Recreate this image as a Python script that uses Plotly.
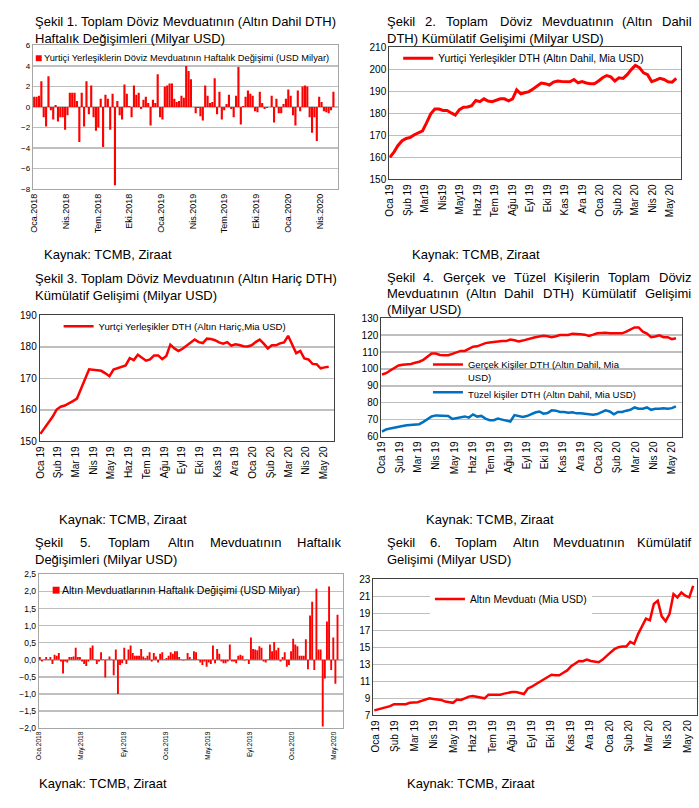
import plotly.graph_objects as go

W, H = 699, 808
RED = "#FF0000"
BLUE = "#0070C0"
FONT = "Liberation Sans, Arial, sans-serif"

# ---------------- data ----------------
p1_tick_labels = ["Oca.2018", "Nis.2018", "Tem.2018", "Eki.2018", "Oca.2019",
                  "Nis.2019", "Tem.2019", "Eki.2019", "Oca.2020", "Nis.2020"]
p1_weekly_change = [
    1.0, 1.0, 1.1, 2.5, -1.0, -1.9, 3.0, -0.3, -1.2, 0.2,
    -1.4, -1.0, -1.0, -2.2, -0.8, 1.4, 1.4, 1.4, 0.6, -3.4,
    1.4, -1.9, 2.5, -0.7, 2.1, -1.0, -2.3, -2.0, 0.8, -3.9,
    1.2, 0.8, -2.2, 1.3, -7.6, 0.6, -0.8, -1.2, 2.2, 1.3,
    0.1, -1.0, 2.1, 1.2, 1.4, -0.2, 0.7, 1.0, 0.4, -1.8,
    0.7, 0.4, 3.2, -1.0, -1.2, 2.0, 2.1, 2.3, 2.3, 0.8,
    0.5, 0.6, 1.1, 0.9, 4.0, 3.5, 2.7, 0.0, -0.6, -0.1,
    -0.9, -1.3, 2.1, 1.1, 0.4, 0.5, 2.8, -0.7, 1.5, -1.2,
    -0.3, 0.3, 1.2, -0.2, -1.0, 1.1, 3.9, -1.7, 0.1, 1.0,
    1.6, 1.3, 1.1, -0.4, -0.5, 1.5, 0.4, -0.2, -0.1, 0.0,
    1.1, -1.5, 0.8, -0.6, -0.6, 0.3, 0.8, 1.7, 1.1, -0.8,
    -1.8, 1.6, -0.4, 2.0, 2.1, 2.0, -1.0, -2.5, -1.0, -3.3,
    1.0, 0.5, -0.4, -0.5, -0.6, -0.3, 1.5]

p2_tick_labels = ["Oca 19", "Şub 19", "Mar19", "Nis19", "May19", "Haz 19", "Tem 19",
                  "Ağu 19", "Eyl 19", "Eki 19", "Kas 19", "Ara 19", "Oca 20", "Şub 20",
                  "Mar 20", "Nis 20", "May 20"]
p2_total_dth = [
    160.0, 162.4, 165.4, 167.6, 168.6, 169.1, 170.3, 171.3, 172.1, 175.8,
    179.8, 182.0, 182.0, 181.3, 181.3, 180.2, 179.2, 181.7, 182.8, 182.9,
    183.5, 185.9, 185.3, 186.6, 185.6, 185.3, 185.9, 186.6, 186.6, 185.7,
    186.6, 190.7, 188.9, 189.3, 189.9, 191.1, 192.4, 193.8, 193.5, 192.9,
    194.2, 194.7, 194.5, 194.4, 194.4, 195.4, 193.9, 194.5, 193.8, 193.5,
    193.5, 194.7, 196.2, 197.2, 196.6, 194.7, 196.2, 195.9, 197.6, 199.9,
    201.8, 200.8, 198.4, 197.6, 194.4, 195.1, 195.9, 195.4, 194.4, 194.2,
    195.9]

month_labels = ["Oca 19", "Şub 19", "Mar 19", "Nis 19", "May 19", "Haz 19", "Tem 19",
                "Ağu 19", "Eyl 19", "Eki 19", "Kas 19", "Ara 19", "Oca 20", "Şub 20",
                "Mar 20", "Nis 20", "May 20"]
p3_dth_ex_gold = [
    152.4, 154.2, 156.0, 157.8, 160.1, 161.0, 161.4, 162.0, 162.8, 163.6,
    167.0, 169.8, 172.9, 172.8, 172.7, 172.4, 171.6, 170.7, 172.8, 173.3,
    173.7, 174.1, 176.4, 175.8, 177.5, 176.4, 175.6, 176.0, 177.3, 177.3,
    176.1, 177.1, 180.7, 179.5, 178.7, 179.4, 180.3, 181.3, 182.3, 181.5,
    181.2, 182.6, 182.5, 182.1, 181.4, 181.0, 181.5, 180.4, 180.8, 180.6,
    180.2, 180.1, 180.5, 181.5, 182.3, 181.0, 179.5, 180.5, 180.5, 181.1,
    181.4, 183.5, 180.8, 178.0, 178.7, 176.3, 176.0, 174.6, 174.5, 173.2,
    173.5, 173.7]

p4_individuals = [
    96.7, 97.5, 99.1, 100.6, 102.1, 102.5, 102.5, 102.9, 103.7, 104.3,
    105.4, 107.2, 109.1, 109.1, 108.3, 108.1, 108.1, 108.9, 109.7, 110.7,
    110.7, 112.0, 113.2, 113.4, 114.5, 115.3, 115.7, 116.1, 116.1, 116.5,
    116.5, 117.4, 117.0, 116.3, 116.8, 117.6, 118.4, 118.8, 119.2, 119.6,
    119.4, 118.8, 119.4, 120.1, 120.1, 120.1, 120.9, 120.5, 120.5, 120.3,
    119.6, 120.3, 121.1, 121.3, 121.5, 121.1, 121.1, 121.5, 121.1, 122.1,
    123.4, 124.6, 124.6, 122.1, 120.9, 118.8, 119.2, 119.9, 118.8, 118.8,
    117.6, 118.2]
p4_corporates = [
    62.9, 64.2, 64.8, 65.4, 66.0, 66.2, 66.6, 66.8, 66.9, 67.3,
    68.7, 70.4, 71.9, 72.5, 72.5, 72.5, 72.2, 70.4, 71.0, 71.6,
    71.9, 71.2, 73.1, 71.8, 72.2, 70.6, 69.7, 69.7, 70.6, 70.0,
    69.3, 68.9, 72.7, 72.1, 71.6, 72.1, 73.3, 74.2, 74.8, 73.5,
    73.9, 75.5, 75.3, 74.5, 74.5, 74.1, 74.3, 73.7, 73.7, 73.5,
    73.5, 72.9, 73.3, 74.6, 75.5, 74.8, 73.1, 74.5, 74.5, 75.3,
    75.8, 77.2, 76.4, 76.4, 77.2, 75.8, 76.4, 76.4, 76.8, 76.4,
    76.8, 77.8]

p5_tick_labels = ["Oca.2018", "May.2018", "Eyl.2018", "Oca.2019", "May.2019",
                  "Eyl.2019", "Oca.2020", "May.2020"]
p5_gold_weekly = [
    0.08, -0.05, 0.02, 0.08, 0.02, 0.08, -0.12, 0.15, 0.12, 0.2,
    -0.05, -0.4, -0.05, -0.08, 0.08, 0.08, 0.1, 0.35, 0.08, 0.08,
    -0.05, -0.12, -0.18, -0.05, 0.35, 0.42, 0.02, -0.12, -0.05, 0.22,
    0.02, -0.52, 0.02, 0.1, 0.02, -0.45, 0.3, -1.0, -0.15, -0.1,
    0.35, -0.12, 0.3, 0.42, 0.2, 0.12, 0.12, 0.12, 0.32, 0.1,
    0.05, 0.12, 0.22, -0.05, 0.2, 0.1, -0.08, 0.18, 0.22, 0.02,
    0.05, 0.12, 0.22, 0.18, 0.25, 0.25, 0.08, 0.02, -0.02, 0.02,
    0.2, 0.08, 0.02, 0.25, 0.22, 0.02, -0.08, -0.15, -0.05, -0.2,
    -0.08, -0.12, 0.42, -0.1, 0.32, 0.18, -0.05, -0.1, -0.1, -0.05,
    0.45, -0.05, -0.05, -0.1, 0.12, 0.15, 0.12, -0.02, 0.02, -0.12,
    0.65, 0.32, 0.3, 0.28, 0.4, 0.35, -0.05, -0.08, 0.02, 0.45,
    0.25, 0.52, 0.28, 0.35, -0.05, 0.08, 0.22, -0.2, -0.15, 0.25,
    0.62, 0.45, 0.4, 0.12, 0.12, 0.12, 0.6, -0.28, 1.3, 1.7,
    -0.3, 2.08, 0.3, 0.3, -1.95, -0.55, 1.12, 2.15, -0.3, 0.65,
    -0.7, 1.32]

p6_gold_total = [
    7.58, 7.70, 7.85, 8.0, 8.08, 8.31, 8.31, 8.31, 8.31, 8.47,
    8.54, 8.54, 8.70, 8.85, 9.0, 8.93, 8.85, 8.81, 8.62, 8.58,
    8.47, 8.85, 8.81, 9.0, 9.2, 9.28, 9.16, 9.08, 9.0, 9.43,
    9.43, 9.35, 9.43, 9.55, 9.66, 9.74, 9.74, 9.58, 9.51, 10.16,
    10.36, 10.66, 10.93, 11.17, 11.43, 11.78, 11.71, 11.71, 12.01, 12.28,
    12.78, 13.05, 13.40, 13.36, 13.56, 13.40, 13.28, 13.25, 13.56, 14.02,
    14.40, 14.79, 15.02, 15.10, 15.10, 15.64, 15.41, 16.56, 17.41, 18.37,
    18.18, 20.11, 20.49, 18.64, 18.07, 18.95, 21.27, 20.88, 21.46, 21.07,
    20.88, 22.23]

P1_NAME = "Yurtiçi Yerleşiklerin Döviz Mevduatının Haftalık Değişimi (USD Milyar)"
P5_NAME = "Altın Mevduatlarının Haftalık Değişimi (USD Milyar)"

# ---------------- helpers ----------------
def fx(px):
    return px / W


def fy(py):
    return 1 - py / H


def idx(values):
    return list(range(len(values)))


def xaxis(left, right, rng, tickvals, ticktext, size, linecolor, anchor):
    return dict(domain=[fx(left), fx(right)], range=rng, tickmode="array",
                tickvals=tickvals, ticktext=ticktext, tickangle=-90,
                tickfont=dict(size=size, color="black", family=FONT),
                showgrid=False, zeroline=False, showline=True, mirror=True,
                linecolor=linecolor, linewidth=1, ticks="", anchor=anchor,
                fixedrange=True)


def yaxis(top, bottom, rng, dtick, size, linecolor, anchor, fmt=None):
    d = dict(domain=[fy(bottom), fy(top)], range=rng, dtick=dtick, tick0=rng[0],
             tickmode="linear",
             tickfont=dict(size=size, color="black", family=FONT),
             showgrid=True, gridcolor="#BFBFBF", gridwidth=1.5, zeroline=False,
             showline=True, mirror=True, linecolor=linecolor, linewidth=1,
             ticks="", anchor=anchor, fixedrange=True)
    if fmt:
        d["tickformat"] = fmt
    return d


def legend(x_px, y_px, size, bg="rgba(0,0,0,0)", valign="middle"):
    return dict(x=fx(x_px), y=fy(y_px), xanchor="left", yanchor="middle",
                font=dict(size=size, color="black", family=FONT), bgcolor=bg,
                borderwidth=0, itemwidth=30, valign=valign, tracegroupgap=0,
                orientation="v", itemclick=False, itemdoubleclick=False)


fig = go.Figure()

# Panel 1 – weekly change of FX deposits
fig.add_trace(go.Bar(x=idx(p1_weekly_change), y=p1_weekly_change, marker_color=RED,
                     marker_line_width=0, name=P1_NAME, showlegend=False,
                     xaxis="x", yaxis="y"))
# Panel 2 – cumulative incl. gold
fig.add_trace(go.Scatter(x=idx(p2_total_dth), y=p2_total_dth, mode="lines",
                         line=dict(color=RED, width=3),
                         name="Yurtiçi Yerleşikler DTH (Altın Dahil, Mia USD)",
                         xaxis="x2", yaxis="y2", legend="legend2"))
# Panel 3 – cumulative excl. gold
fig.add_trace(go.Scatter(x=idx(p3_dth_ex_gold), y=p3_dth_ex_gold, mode="lines",
                         line=dict(color=RED, width=2.5),
                         name="Yurtçi Yerleşikler DTH (Altın Hariç,Mia USD)",
                         xaxis="x3", yaxis="y3", legend="legend3"))
# Panel 4 – individuals vs corporates
fig.add_trace(go.Scatter(x=idx(p4_individuals), y=p4_individuals, mode="lines",
                         line=dict(color=RED, width=2.5),
                         name="Gerçek Kişiler DTH (Altın Dahil, Mia<br>USD)",
                         xaxis="x4", yaxis="y4", legend="legend4"))
fig.add_trace(go.Scatter(x=idx(p4_corporates), y=p4_corporates, mode="lines",
                         line=dict(color=BLUE, width=2.5),
                         name="Tüzel kişiler DTH (Altın Dahil, Mia USD)",
                         xaxis="x4", yaxis="y4", legend="legend4"))
# Panel 5 – weekly change of gold deposits
fig.add_trace(go.Bar(x=idx(p5_gold_weekly), y=p5_gold_weekly, marker_color=RED,
                     marker_line_width=0, name=P5_NAME, showlegend=False,
                     xaxis="x5", yaxis="y5"))
# Panel 6 – cumulative gold deposits
fig.add_trace(go.Scatter(x=idx(p6_gold_total), y=p6_gold_total, mode="lines",
                         line=dict(color=RED, width=2.5),
                         name="Altın Mevduatı (Mia USD)",
                         xaxis="x6", yaxis="y6", legend="legend6"))

n1, n2, n3, n4, n5, n6 = (len(p1_weekly_change), len(p2_total_dth), len(p3_dth_ex_gold),
                          len(p4_individuals), len(p5_gold_weekly), len(p6_gold_total))

GRID_DARK = "#404040"
GRID_LIGHT = "#A6A6A6"

layout = dict(
    width=W, height=H, autosize=False,
    margin=dict(l=0, r=0, t=0, b=0),
    paper_bgcolor="white", plot_bgcolor="white",
    font=dict(family=FONT, color="black"),
    separators=",.",
    bargap=0.1,
    showlegend=True,
    xaxis=xaxis(28, 335, [-0.6, (n1 - 1) * 1.014], [k * 13.36 for k in range(len(p1_tick_labels))],
                p1_tick_labels, 9, GRID_LIGHT, "y"),
    yaxis=yaxis(40, 186, [-8, 6], 2, 8, GRID_LIGHT, "x"),
    xaxis2=xaxis(387, 681, [-0.15, (n2 - 1) * 1.017], [k * 4.28 for k in range(len(p2_tick_labels))],
                 p2_tick_labels, 10, GRID_DARK, "y2"),
    yaxis2=yaxis(42, 176, [150, 210], 10, 10, GRID_DARK, "x2"),
    xaxis3=xaxis(35, 331, [-0.16, (n3 - 1) * 1.017], [k * 4.36 for k in range(len(month_labels))],
                 month_labels, 10, GRID_DARK, "y3"),
    yaxis3=yaxis(314, 442, [150, 190], 10, 10, GRID_DARK, "x3"),
    xaxis4=xaxis(379, 682, [-0.16, (n4 - 1) * 1.021], [k * 4.37 for k in range(len(month_labels))],
                 month_labels, 10, GRID_DARK, "y4"),
    yaxis4=yaxis(317, 437, [60, 130], 10, 10, GRID_DARK, "x4"),
    xaxis5=xaxis(34, 340, [-0.5, (n5 - 1) * 1.017], [-0.3 + k * 19.96 for k in range(len(p5_tick_labels))],
                 p5_tick_labels, 6.5, GRID_LIGHT, "y5"),
    yaxis5=yaxis(577, 733, [-2, 2.5], 0.5, 8.5, GRID_LIGHT, "x5", ".1f"),
    xaxis6=xaxis(371, 697, [-0.25, (n6 - 1) * 1.012], [0.25 + k * 4.96 for k in range(len(month_labels))],
                 month_labels, 10, GRID_DARK, "y6"),
    yaxis6=yaxis(582, 720, [7, 23], 2, 10, GRID_DARK, "x6"),
    legend2=legend(396, 53, 10.3),
    legend3=legend(54, 325, 9.6),
    legend4=legend(426, 380, 9.5, "rgba(0,0,0,0)", "top"),
    legend6=legend(428, 602, 10.3, "white"),
)
fig.update_layout(**layout)

# ---------------- text (titles, sources, bar legends) ----------------
CW = {" ": 278, ".": 278, "(": 333, ")": 333, ",": 278, ":": 278,
      "A": 667, "B": 667, "C": 722, "D": 722, "G": 778, "H": 722, "K": 667,
      "M": 833, "S": 667, "Ş": 667, "T": 611, "U": 722, "Y": 667, "Z": 611,
      "a": 556, "b": 556, "c": 500, "ç": 500, "d": 556, "e": 556, "f": 278,
      "g": 556, "ğ": 556, "h": 556, "i": 222, "ı": 222, "k": 500, "l": 222,
      "m": 833, "n": 556, "o": 556, "ö": 556, "p": 556, "r": 333, "s": 500,
      "ş": 500, "t": 278, "u": 556, "ü": 556, "v": 500, "y": 500, "z": 500}
TSIZE = 13


def text_w(s, size=TSIZE):
    return sum(CW.get(c, 556) for c in s) * size / 1000


annotations = []
shapes = []


def add_text(s, x_px, y_px, size=TSIZE):
    annotations.append(dict(text=s, x=fx(x_px), y=fy(y_px), xref="paper", yref="paper",
                            xanchor="left", yanchor="middle", showarrow=False,
                            font=dict(size=size, color="black", family=FONT)))


def add_justified(s, x0, x1, y_px, size=TSIZE):
    words = s.split(" ")
    total = sum(text_w(w, size) for w in words)
    gap = (x1 - x0 - total) / (len(words) - 1)
    x = x0
    for w in words:
        add_text(w, x, y_px, size)
        x += text_w(w, size) + gap


def add_bar_key(name, x_px, y_px, size, sq=6):
    # legend key of a bar series: small red square followed by the series name
    shapes.append(dict(type="rect", xref="paper", yref="paper",
                       x0=fx(x_px), x1=fx(x_px + sq), y0=fy(y_px + sq / 2), y1=fy(y_px - sq / 2),
                       fillcolor=RED, line_width=0))
    add_text(name, x_px + sq, y_px, size)


add_text("Şekil 1. Toplam Döviz Mevduatının (Altın Dahil DTH)", 28, 16)
add_text("Haftalık Değişimleri (Milyar USD)", 28, 33)
add_justified("Şekil 2. Toplam Döviz Mevduatının (Altın Dahil", 383, 689, 16)
add_text("DTH) Kümülatif Gelişimi (Milyar USD)", 383, 33)
add_text("Kaynak: TCMB, Ziraat", 37, 252)
add_text("Kaynak: TCMB, Ziraat", 408, 252)

add_text("Şekil 3. Toplam Döviz Mevduatının (Altın Hariç DTH)", 28, 277)
add_text("Kümülatif Gelişimi (Milyar USD)", 28, 294)
add_justified("Şekil 4. Gerçek ve Tüzel Kişilerin Toplam Döviz", 383, 689, 276)
add_justified("Mevduatının (Altın Dahil DTH) Kümülatif Gelişimi", 383, 689, 292)
add_text("(Milyar USD)", 383, 308)
add_text("Kaynak: TCMB, Ziraat", 52, 521)
add_text("Kaynak: TCMB, Ziraat", 422, 521)

add_justified("Şekil 5. Toplam Altın Mevduatının Haftalık", 28, 335, 545)
add_text("Değişimleri (Milyar USD)", 28, 562)
add_justified("Şekil 6. Toplam Altın Mevduatının Kümülatif", 383, 689, 545)
add_text("Gelişimi (Milyar USD)", 383, 562)
add_text("Kaynak: TCMB, Ziraat", 32, 789)
add_text("Kaynak: TCMB, Ziraat", 403, 789)

add_bar_key(P1_NAME, 31, 53, 9.3)
add_bar_key(P5_NAME, 48, 593, 10.5, sq=7)

fig.update_layout(annotations=annotations, shapes=shapes)

fig.write_html("out.html", config={"displayModeBar": False, "staticPlot": True},
               post_script="document.body.style.margin='0';document.body.style.overflow='hidden';")
